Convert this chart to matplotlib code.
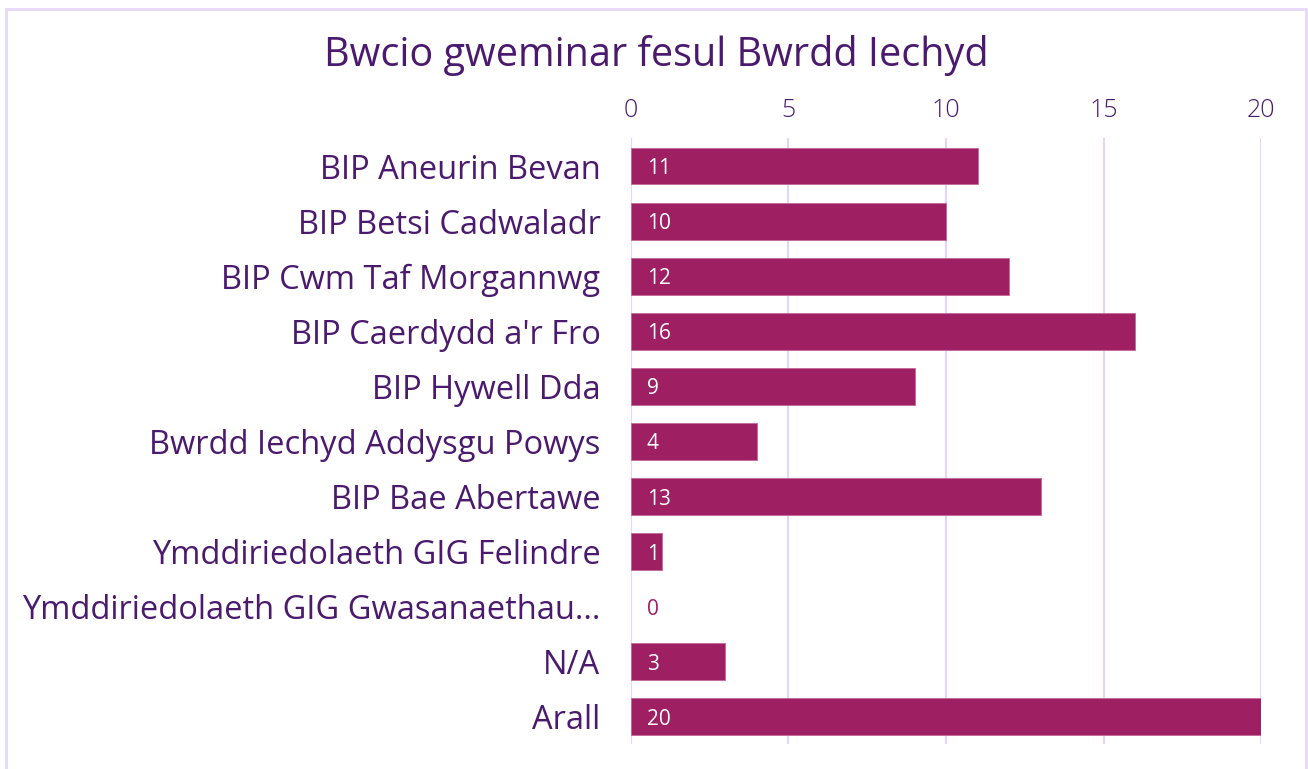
import matplotlib.pyplot as plt
from matplotlib.patches import Rectangle

categories = [
    "BIP Aneurin Bevan",
    "BIP Betsi Cadwaladr",
    "BIP Cwm Taf Morgannwg",
    "BIP Caerdydd a'r Fro",
    "BIP Hywell Dda",
    "Bwrdd Iechyd Addysgu Powys",
    "BIP Bae Abertawe",
    "Ymddiriedolaeth GIG Felindre",
    "Ymddiriedolaeth GIG Gwasanaethau...",
    "N/A",
    "Arall",
]
values = [11, 10, 12, 16, 9, 4, 13, 1, 0, 3, 20]
x_ticks = [0, 5, 10, 15, 20]

bar_color = "#9e1f62"
text_color = "#4b1a6e"
grid_color = "#e6d3f7"

plt.rcParams["font.family"] = ["Open Sans", "DejaVu Sans"]

fig = plt.figure(figsize=(13.08, 7.69), dpi=100)
ax = fig.add_axes([0.4824, 0.0319, 0.4817, 0.788])

pos = list(range(len(categories)))
ax.barh(pos, values, height=0.67, color=bar_color,
        edgecolor=["#c4679a" if v > 0 else "none" for v in values],
        linewidth=0.6, zorder=3)

# value labels just inside the start of each bar
for p, v in zip(pos, values):
    ax.text(0.5, p, str(v), va="center_baseline", ha="left", fontsize=15,
            color="white" if v > 0 else bar_color, zorder=4)

ax.set_ylim(len(categories) - 0.5, -0.5)
ax.set_xlim(0, 20)
ax.set_xticks(x_ticks)
ax.xaxis.tick_top()
ax.tick_params(axis="x", length=0, pad=11, labelsize=18, labelcolor=text_color)
ax.set_yticks(pos)
ax.set_yticklabels(categories)
ax.tick_params(axis="y", length=0, pad=22, labelsize=23.5, labelcolor=text_color)
for lbl in ax.get_xticklabels():
    lbl.set_fontweight("light")

ax.grid(axis="x", color=grid_color, linewidth=1.5, zorder=0)
for s in ax.spines.values():
    s.set_visible(False)

fig.text(0.502, 0.928, "Bwcio gweminar fesul Bwrdd Iechyd", ha="center", va="center",
         fontsize=28.5, color=text_color)

# light border round the whole chart
fig.patches.append(Rectangle((6 / 1308, -0.05), 1300 / 1308, 1.05 - 9 / 769,
                             transform=fig.transFigure, fill=False,
                             edgecolor="#e8d8f8", linewidth=2))

fig.savefig("out.png", dpi=100)
